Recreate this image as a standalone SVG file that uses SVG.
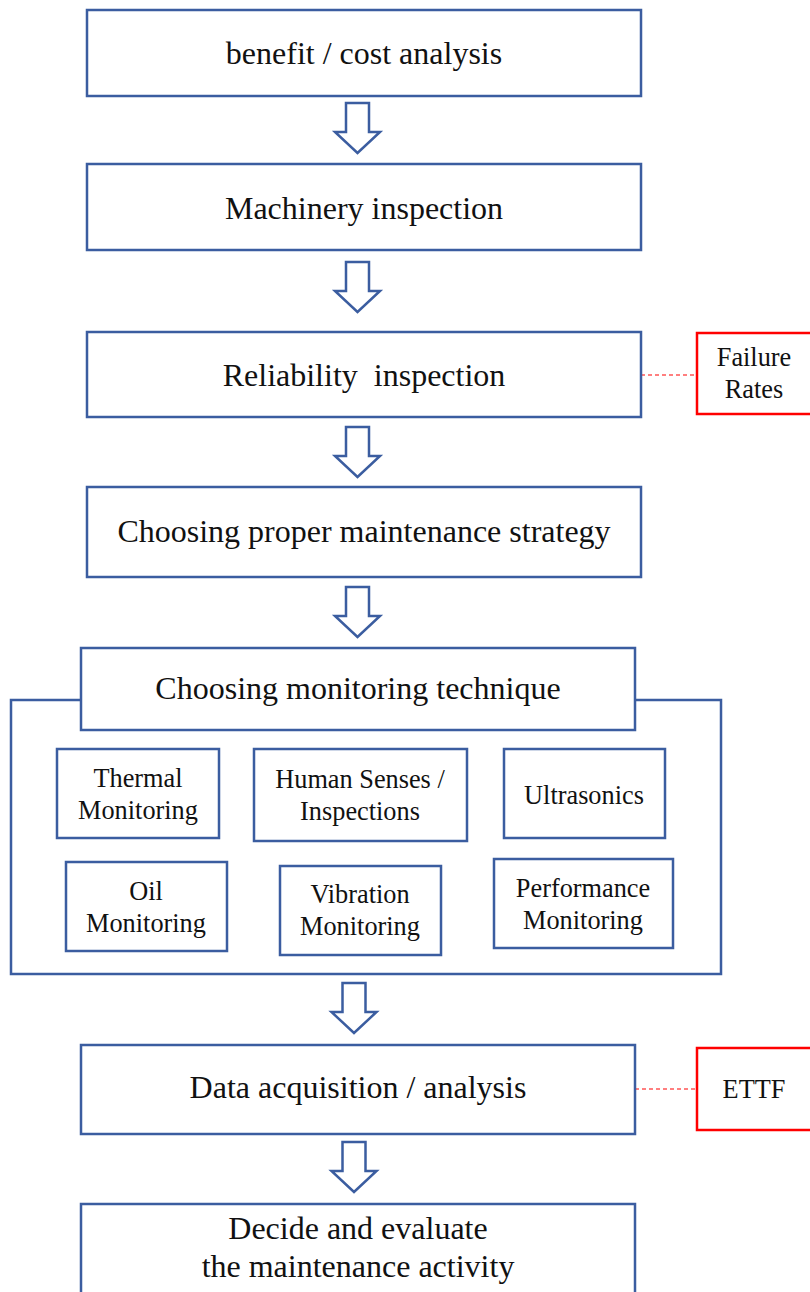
<svg xmlns="http://www.w3.org/2000/svg" width="810" height="1292" viewBox="0 0 810 1292">
  <defs>
    <style>
      .box { fill: #ffffff; stroke: #3B5DA0; stroke-width: 2.5; }
      .note { fill: #ffffff; stroke: #FF0000; stroke-width: 2.5; }
      .arrow { fill: #ffffff; stroke: #3B5DA0; stroke-width: 2.5; stroke-linejoin: miter; }
      .dash { stroke: #FF0000; stroke-width: 1.2; stroke-dasharray: 4 3; fill: none; }
      text { font-family: "Liberation Serif", "Times New Roman", serif; fill: #111111; text-anchor: middle; }
      .main { font-size: 32px; }
      .sub { font-size: 26.3px; }
      .side { font-size: 26.3px; }
    </style>
    <!-- block down-arrow, centred on x=0, top at y=0 -->
    <path id="down" d="M -11.5 0 H 11.5 V 29 H 22.5 L 0 50 L -22.5 29 H -11.5 Z"/>
  </defs>

  <!-- connectors -->
  <g id="connectors">
    <use href="#down" class="arrow" transform="translate(357.5,103)"/>
    <use href="#down" class="arrow" transform="translate(357.5,262)"/>
    <use href="#down" class="arrow" transform="translate(357.5,427)"/>
    <use href="#down" class="arrow" transform="translate(357.5,587)"/>
    <use href="#down" class="arrow" transform="translate(354,983)"/>
    <use href="#down" class="arrow" transform="translate(354,1142)"/>
    <line class="dash" x1="641" y1="375" x2="697" y2="375"/>
    <line class="dash" x1="635" y1="1089" x2="697" y2="1089"/>
  </g>

  <g id="benefit-cost">
    <rect class="box" x="87" y="10" width="554" height="86"/>
    <text class="main" x="364" y="64">benefit / cost analysis</text>
  </g>

  <g id="machinery-inspection">
    <rect class="box" x="87" y="164" width="554" height="86"/>
    <text class="main" x="364" y="219">Machinery inspection</text>
  </g>

  <g id="reliability-inspection">
    <rect class="box" x="87" y="332" width="554" height="85"/>
    <text class="main" x="364" y="386" xml:space="preserve">Reliability  inspection</text>
  </g>

  <g id="failure-rates">
    <rect class="note" x="697" y="333" width="120" height="81"/>
    <text class="side" x="754" y="366">Failure</text>
    <text class="side" x="754" y="398">Rates</text>
  </g>

  <g id="maintenance-strategy">
    <rect class="box" x="87" y="487" width="554" height="90"/>
    <text class="main" x="364" y="542">Choosing proper maintenance strategy</text>
  </g>

  <g id="monitoring-group">
    <rect class="box" x="11" y="700" width="710" height="274"/>
  </g>

  <g id="monitoring-technique">
    <rect class="box" x="81" y="648" width="554" height="82"/>
    <text class="main" x="358" y="699">Choosing monitoring technique</text>
  </g>

  <g id="thermal">
    <rect class="box" x="57" y="749" width="162" height="89"/>
    <text class="sub" x="138" y="787">Thermal</text>
    <text class="sub" x="138" y="819">Monitoring</text>
  </g>

  <g id="human-senses">
    <rect class="box" x="254" y="749" width="213" height="92"/>
    <text class="sub" x="360" y="788">Human Senses /</text>
    <text class="sub" x="360" y="820">Inspections</text>
  </g>

  <g id="ultrasonics">
    <rect class="box" x="504" y="749" width="161" height="89"/>
    <text class="sub" x="584" y="804">Ultrasonics</text>
  </g>

  <g id="oil">
    <rect class="box" x="66" y="862" width="161" height="89"/>
    <text class="sub" x="146" y="900">Oil</text>
    <text class="sub" x="146" y="932">Monitoring</text>
  </g>

  <g id="vibration">
    <rect class="box" x="280" y="866" width="161" height="89"/>
    <text class="sub" x="360" y="903">Vibration</text>
    <text class="sub" x="360" y="935">Monitoring</text>
  </g>

  <g id="performance">
    <rect class="box" x="494" y="859" width="179" height="89"/>
    <text class="sub" x="583" y="897">Performance</text>
    <text class="sub" x="583" y="929">Monitoring</text>
  </g>

  <g id="data-acquisition">
    <rect class="box" x="81" y="1045" width="554" height="89"/>
    <text class="main" x="358" y="1098">Data acquisition / analysis</text>
  </g>

  <g id="ettf">
    <rect class="note" x="697" y="1048" width="120" height="82"/>
    <text class="side" x="754" y="1098">ETTF</text>
  </g>

  <g id="decide-evaluate">
    <rect class="box" x="81" y="1204" width="554" height="100"/>
    <text class="main" x="358" y="1239">Decide and evaluate</text>
    <text class="main" x="358" y="1277">the maintenance activity</text>
  </g>
</svg>
